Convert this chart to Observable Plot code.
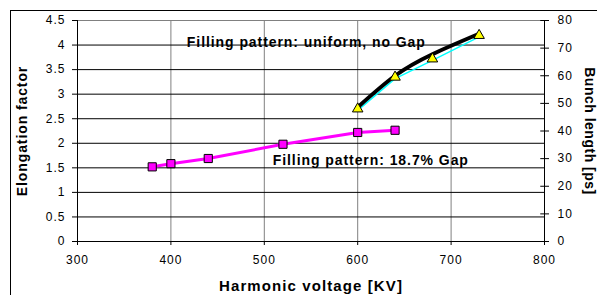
<!DOCTYPE html>
<html><head><meta charset="utf-8">
<script src="https://cdn.jsdelivr.net/npm/d3@7"></script>
<script src="https://cdn.jsdelivr.net/npm/@observablehq/plot@0.6"></script>
<style>body{margin:0;background:#fff;font-family:"Liberation Sans",Arial,sans-serif}
svg text{letter-spacing:1px}
svg text.ann{letter-spacing:0.93px}
svg text.xt{letter-spacing:1.1px}
svg text.yt{letter-spacing:0.9px}
svg text.yt2{letter-spacing:0.5px}
</style>
</head><body><div id="chart"></div>
<script>
// Series 1: Filling pattern 18.7% Gap (elongation factor, left axis)
const gapVoltage = [380, 400, 440, 520, 600, 640];
const gapElongation = [1.52, 1.585, 1.69, 1.98, 2.22, 2.265];
// Series 2: uniform, no gap (bunch length ps, right axis)
const uniVoltage = [600, 640, 680, 730];
const uniBunch = [48.0, 59.5, 66.1, 74.6];
// Fitted trend (black) for series 2
const fitVoltage = [600, 640, 680, 730];
const fitBunch = [48.6, 60.0, 67.8, 75.2];
// Tick labels
const xTicks = [300, 400, 500, 600, 700, 800];
const leftTicks = [0, 0.5, 1, 1.5, 2, 2.5, 3, 3.5, 4, 4.5];
const rightTicks = [0, 10, 20, 30, 40, 50, 60, 70, 80];
const k = 4.5 / 80;

const gap = gapVoltage.map((v, i) => ({v, e: gapElongation[i]}));
const uni = uniVoltage.map((v, i) => ({v, b: uniBunch[i] * k}));
const fit = fitVoltage.map((v, i) => ({v, b: fitBunch[i] * k}));

const plot = Plot.plot({
  width: 597, height: 295,
  marginLeft: 77, marginRight: 53, marginTop: 20, marginBottom: 54,
  style: {fontFamily: "Liberation Sans, Arial, sans-serif", fontSize: "12px", color: "#000", background: "#fff"},
  x: {domain: [300, 800]},
  y: {domain: [0, 4.5]},
  marks: [
    Plot.ruleX(xTicks.filter(d => d > 300 && d < 800), {stroke: "#808080", strokeWidth: 1}),
    Plot.ruleY(leftTicks.filter(d => d > 0 && d < 4.5), {stroke: "#000", strokeWidth: 1}),
    Plot.ruleY([4.5], {stroke: "#808080"}),
    Plot.axisX({ticks: xTicks, tickSize: 4, tickPadding: 10, tickFormat: d => d, label: null, fontSize: 12}),
    Plot.axisY({ticks: leftTicks, tickSize: 5, tickPadding: 7, tickFormat: d => String(d), label: null, fontSize: 12}),
    Plot.axisY({anchor: "right", ticks: rightTicks.map(d => d * k), tickSize: 4, tickPadding: 9, tickFormat: d => Math.round(d / k), label: null, fontSize: 12}),
    Plot.ruleY(rightTicks.map(d => d * k), {x1: 796, x2: 800, stroke: "#000"}),
    Plot.ruleX([300], {stroke: "#000"}),
    Plot.ruleX([800], {stroke: "#000"}),
    Plot.ruleY([0], {stroke: "#000"}),
    Plot.line(gap, {x: "v", y: "e", stroke: "#ff00ff", strokeWidth: 3}),
    Plot.dot(gap, {x: "v", y: "e", symbol: "square", r: 4.6, fill: "#ff00ff", stroke: "#000", strokeWidth: 1}),
    Plot.line(uni, {x: "v", y: "b", stroke: "#00ffff", strokeWidth: 1.5, dy: 1.5}),
    Plot.line(fit, {x: "v", y: "b", stroke: "#000", strokeWidth: 4, curve: "natural"}),
    Plot.dot(uni, {x: "v", y: "b", symbol: "triangle", r: 3.9, fill: "#ffff00", stroke: "#000", strokeWidth: 1}),
    Plot.text(["Filling pattern: uniform, no Gap"], {x: 545, y: 4.06, text: d => d, fontWeight: "bold", fontSize: 14}),
    Plot.text(["Filling pattern: 18.7% Gap"], {x: 614, y: 1.65, text: d => d, fontWeight: "bold", fontSize: 14}),
    Plot.text(["Harmonic voltage [KV]"], {frameAnchor: "bottom", textAnchor: "middle", dy: 49, text: d => d, fontWeight: "bold", fontSize: 15}),
    Plot.text(["Elongation factor"], {frameAnchor: "left", textAnchor: "middle", dx: -54.5, rotate: -90, text: d => d, fontWeight: "bold", fontSize: 14}),
    Plot.text(["Bunch length [ps]"], {frameAnchor: "right", textAnchor: "middle", dx: 45, rotate: 90, text: d => d, fontWeight: "bold", fontSize: 14})
  ]
});
const cls = {
  "Filling pattern: uniform, no Gap": "ann",
  "Filling pattern: 18.7% Gap": "ann",
  "Harmonic voltage [KV]": "xt",
  "Elongation factor": "yt",
  "Bunch length [ps]": "yt2"
};
d3.select(plot).selectAll("text").each(function() {
  const c = cls[this.textContent];
  if (c) this.setAttribute("class", c);
});
d3.select(plot).append("rect").attr("x", 10.5).attr("y", 10.5).attr("width", 600).attr("height", 300)
  .attr("fill", "none").attr("stroke", "#000").attr("stroke-width", 1);
document.getElementById("chart").appendChild(plot);
</script></body></html>
